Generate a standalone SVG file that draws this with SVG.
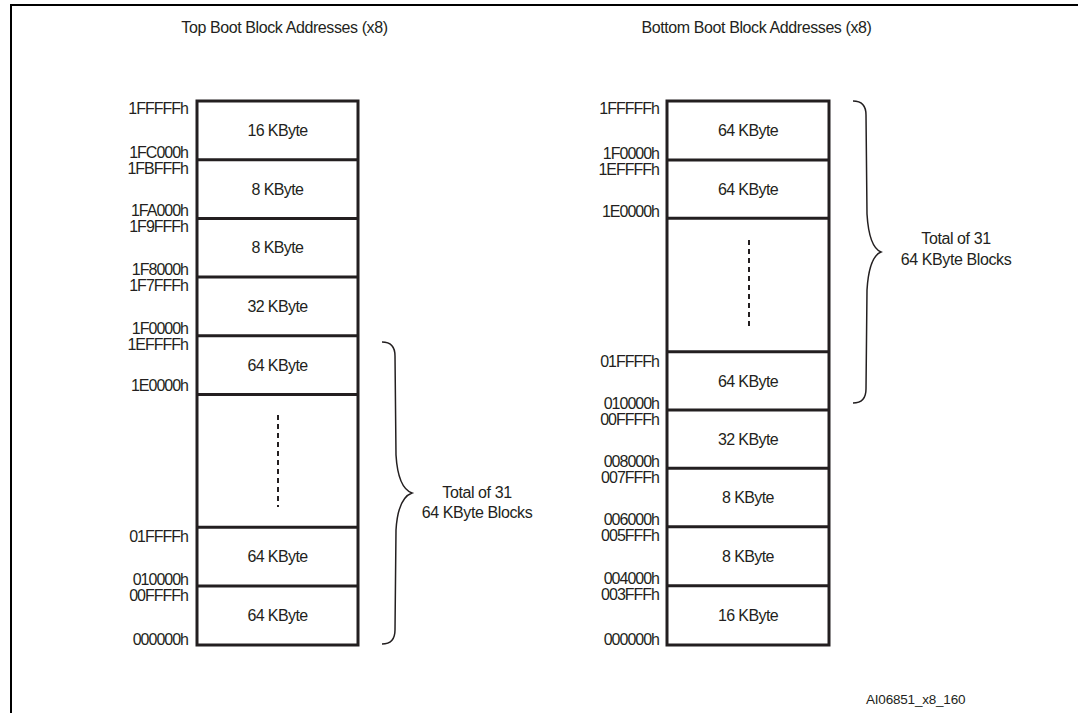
<svg xmlns="http://www.w3.org/2000/svg" width="1078" height="713" viewBox="0 0 1078 713">
<style>
text{font-family:"Liberation Sans",Arial,sans-serif;font-size:16px;fill:#231f20}
.addr{text-anchor:end;letter-spacing:-1px}
.blk{text-anchor:middle;letter-spacing:-0.6px}
.ttl{text-anchor:middle;letter-spacing:-0.4px}
.box{fill:#fff;stroke:#231f20;stroke-width:3}
.div{stroke:#231f20;stroke-width:3}
.dash{stroke:#231f20;stroke-width:2;stroke-dasharray:5 4}
.brace{fill:none;stroke:#231f20;stroke-width:1.5}
</style>
<rect width="1078" height="713" fill="#fff"/>
<g id="frame">
<line x1="11" y1="5" x2="1078" y2="5" stroke="#000" stroke-width="2"/>
<line x1="11" y1="4" x2="11" y2="713" stroke="#000" stroke-width="2"/>
</g>
<g id="titles">
<text class="ttl" x="284.5" y="33">Top Boot Block Addresses (x8)</text>
<text class="ttl" x="756.5" y="33">Bottom Boot Block Addresses (x8)</text>
</g>
<g id="top-boot-map">
<rect class="box" x="197" y="101" width="161" height="544"/>
<line class="div" x1="197" y1="159.7" x2="358" y2="159.7"/>
<line class="div" x1="197" y1="218.4" x2="358" y2="218.4"/>
<line class="div" x1="197" y1="277.1" x2="358" y2="277.1"/>
<line class="div" x1="197" y1="335.8" x2="358" y2="335.8"/>
<line class="div" x1="197" y1="394.5" x2="358" y2="394.5"/>
<line class="div" x1="197" y1="527.3" x2="358" y2="527.3"/>
<line class="div" x1="197" y1="586" x2="358" y2="586"/>
<line class="dash" x1="278" y1="415" x2="278" y2="507"/>
<text class="blk" x="277.5" y="136">16 KByte</text>
<text class="blk" x="277.5" y="194.5">8 KByte</text>
<text class="blk" x="277.5" y="253">8 KByte</text>
<text class="blk" x="277.5" y="312">32 KByte</text>
<text class="blk" x="277.5" y="370.5">64 KByte</text>
<text class="blk" x="277.5" y="562">64 KByte</text>
<text class="blk" x="277.5" y="621">64 KByte</text>
<text class="addr" x="188" y="114">1FFFFFh</text>
<text class="addr" x="188" y="157.5">1FC000h</text>
<text class="addr" x="188" y="173.5">1FBFFFh</text>
<text class="addr" x="188" y="216">1FA000h</text>
<text class="addr" x="188" y="232">1F9FFFh</text>
<text class="addr" x="188" y="275">1F8000h</text>
<text class="addr" x="188" y="291">1F7FFFh</text>
<text class="addr" x="188" y="334">1F0000h</text>
<text class="addr" x="188" y="350">1EFFFFh</text>
<text class="addr" x="188" y="391">1E0000h</text>
<text class="addr" x="188" y="542">01FFFFh</text>
<text class="addr" x="188" y="585">010000h</text>
<text class="addr" x="188" y="601">00FFFFh</text>
<text class="addr" x="188" y="645">000000h</text>
</g>
<g id="top-boot-brace">
<path class="brace" d="M382,342 Q395,342 395,356 L396,455 Q398,488 412,493 Q398,498 396,530 L395,630 Q395,644 382,644"/>
<text class="ttl" x="477" y="498">Total of 31</text>
<text class="ttl" x="477" y="518">64 KByte Blocks</text>
</g>
<g id="bottom-boot-map">
<rect class="box" x="667" y="101" width="162" height="544"/>
<line class="div" x1="667" y1="160" x2="829" y2="160"/>
<line class="div" x1="667" y1="218.3" x2="829" y2="218.3"/>
<line class="div" x1="667" y1="351.7" x2="829" y2="351.7"/>
<line class="div" x1="667" y1="410" x2="829" y2="410"/>
<line class="div" x1="667" y1="468.3" x2="829" y2="468.3"/>
<line class="div" x1="667" y1="526.7" x2="829" y2="526.7"/>
<line class="div" x1="667" y1="585.7" x2="829" y2="585.7"/>
<line class="dash" x1="749" y1="240" x2="749" y2="328"/>
<text class="blk" x="748" y="136">64 KByte</text>
<text class="blk" x="748" y="194.5">64 KByte</text>
<text class="blk" x="748" y="386.5">64 KByte</text>
<text class="blk" x="748" y="444.5">32 KByte</text>
<text class="blk" x="748" y="503">8 KByte</text>
<text class="blk" x="748" y="561.5">8 KByte</text>
<text class="blk" x="748" y="620.5">16 KByte</text>
<text class="addr" x="659" y="114">1FFFFFh</text>
<text class="addr" x="659" y="158.5">1F0000h</text>
<text class="addr" x="659" y="174.5">1EFFFFh</text>
<text class="addr" x="659" y="216.5">1E0000h</text>
<text class="addr" x="659" y="366.5">01FFFFh</text>
<text class="addr" x="659" y="408.5">010000h</text>
<text class="addr" x="659" y="424.5">00FFFFh</text>
<text class="addr" x="659" y="467">008000h</text>
<text class="addr" x="659" y="483">007FFFh</text>
<text class="addr" x="659" y="525">006000h</text>
<text class="addr" x="659" y="541">005FFFh</text>
<text class="addr" x="659" y="584">004000h</text>
<text class="addr" x="659" y="600">003FFFh</text>
<text class="addr" x="659" y="645">000000h</text>
</g>
<g id="bottom-boot-brace">
<path class="brace" d="M853,101 Q866,101 866,115 L867,214 Q869,247 881,252 Q869,257 867,290 L866,389 Q866,403 853,403"/>
<text class="ttl" x="956" y="244">Total of 31</text>
<text class="ttl" x="956" y="265">64 KByte Blocks</text>
</g>
<g id="figure-id">
<text x="866" y="704" style="font-size:13.5px;letter-spacing:-0.2px">AI06851_x8_160</text>
</g>
</svg>
